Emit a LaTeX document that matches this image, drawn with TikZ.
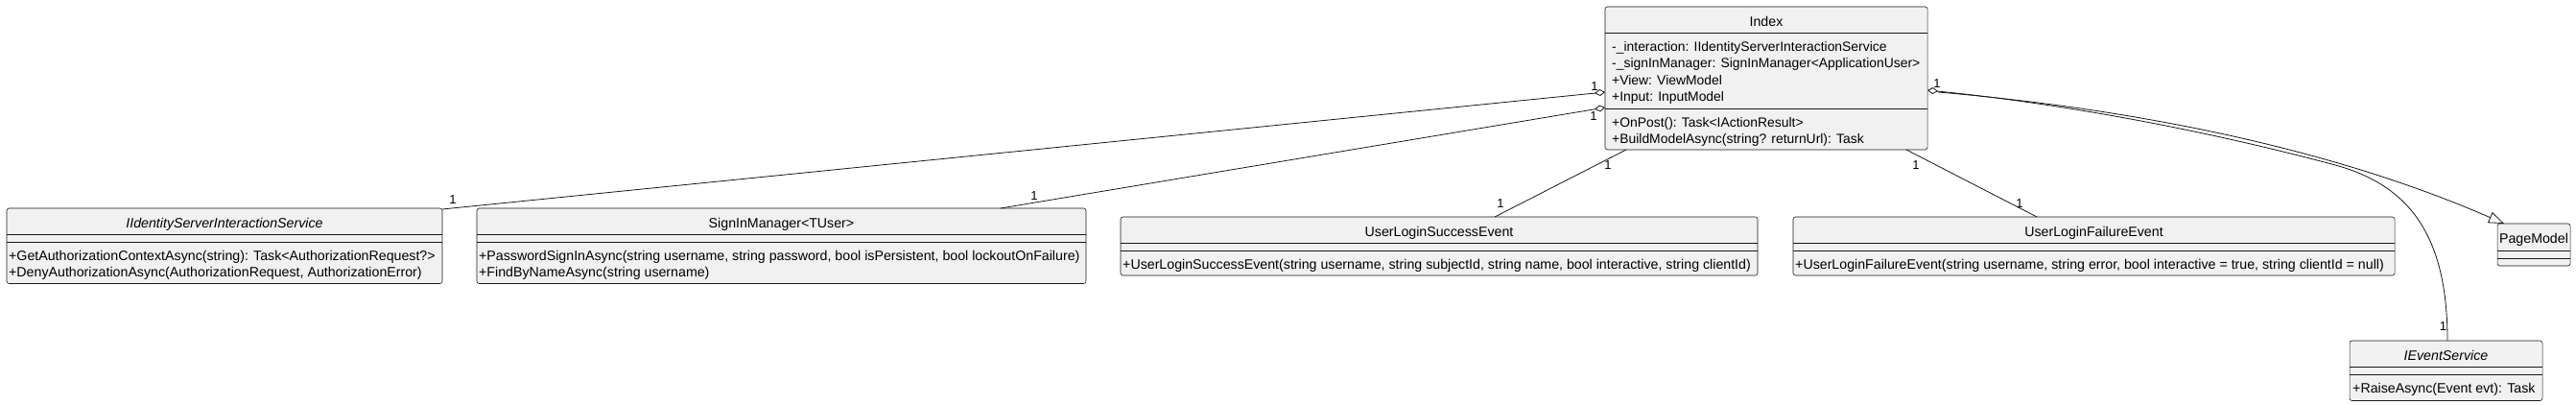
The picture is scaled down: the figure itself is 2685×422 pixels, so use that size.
\documentclass[tikz,border=0pt]{standalone}
\usepackage{fontspec}
\setmainfont{Liberation Sans}
\usetikzlibrary{arrows.meta,calc}
\definecolor{boxfill}{HTML}{F1F1F1}
\definecolor{boxline}{HTML}{181818}
\definecolor{edgecol}{HTML}{181818}
\tikzset{
  cls/.style={draw=boxline, line width=0.55pt, fill=boxfill, rounded corners=2.5pt, inner sep=0pt, outer sep=0pt},
  sepline/.style={draw=boxline, line width=0.55pt},
  txt/.style={anchor=base west, inner sep=0pt, font=\fontsize{14.2}{17}\selectfont},
  idxtxt/.style={anchor=base west, inner sep=0pt, font=\fontsize{13.9}{17}\selectfont},
  ttl/.style={anchor=base, inner sep=0pt, font=\fontsize{14.2}{17}\selectfont},
  ittl/.style={anchor=base, inner sep=0pt, font=\fontsize{14.2}{17}\selectfont\itshape},
  mult/.style={inner sep=0pt, font=\fontsize{13}{15}\selectfont},
  assoc/.style={draw=edgecol, line width=0.8pt},
  agg/.style={assoc, {Diamond[open,length=11pt,width=7pt]}-},
  gen/.style={assoc, -{Triangle[open,length=16pt,width=12pt]}},
}
\begin{document}
\begin{tikzpicture}[x=1pt,y=-1pt]
\useasboundingbox[fill=white] (0,0) rectangle (2685,422);

% ---------- Index ----------
\node[cls, minimum width=336pt, minimum height=149pt] (index) at (1841,81.5) {};
\draw[sepline] (index.west |- 0,34) -- (index.east |- 0,34);
\draw[sepline] (index.west |- 0,113) -- (index.east |- 0,113);
\node[ttl] (indexT) at (1841,27.5) {Index};
\node[idxtxt] (ia1) at (1680,53.5) {-\_interaction: IIdentityServerInteractionService};
\node[idxtxt] (ia2) at (1680,70.8) {-\_signInManager: SignInManager<ApplicationUser>};
\node[idxtxt] (ia3) at (1680,88.1) {+View: ViewModel};
\node[idxtxt] (ia4) at (1680,105.4) {+Input: InputModel};
\node[idxtxt] (im1) at (1680,132.5) {+OnPost(): Task<IActionResult>};
\node[idxtxt] (im2) at (1680,149.8) {+BuildModelAsync(string? returnUrl): Task};

% ---------- IIdentityServerInteractionService ----------
\node[cls, minimum width=454pt, minimum height=78.5pt] (iis) at (234,256.25) {};
\draw[sepline] (iis.west |- 0,244) -- (iis.east |- 0,244);
\draw[sepline] (iis.west |- 0,252) -- (iis.east |- 0,252);
\node[ittl] (iisT) at (234,237.5) {IIdentityServerInteractionService};
\node[txt] (iism1) at (9,271.5) {+GetAuthorizationContextAsync(string): Task<AuthorizationRequest?>};
\node[txt] (iism2) at (9,288.8) {+DenyAuthorizationAsync(AuthorizationRequest, AuthorizationError)};

% ---------- SignInManager ----------
\node[cls, minimum width=635pt, minimum height=78.5pt] (sim) at (814.5,256.25) {};
\draw[sepline] (sim.west |- 0,244) -- (sim.east |- 0,244);
\draw[sepline] (sim.west |- 0,252) -- (sim.east |- 0,252);
\node[ttl] (simT) at (814.5,237.5) {SignInManager<TUser>};
\node[txt] (simm1) at (499,271.5) {+PasswordSignInAsync(string username, string password, bool isPersistent, bool lockoutOnFailure)};
\node[txt] (simm2) at (499,288.8) {+FindByNameAsync(string username)};

% ---------- UserLoginSuccessEvent ----------
\node[cls, minimum width=664pt, minimum height=61pt] (ulse) at (1500,256.5) {};
\draw[sepline] (ulse.west |- 0,253) -- (ulse.east |- 0,253);
\draw[sepline] (ulse.west |- 0,261) -- (ulse.east |- 0,261);
\node[ttl] (ulseT) at (1500,246.5) {UserLoginSuccessEvent};
\node[txt] (ulsem1) at (1170,280.5) {+UserLoginSuccessEvent(string username, string subjectId, string name, bool interactive, string clientId)};

% ---------- UserLoginFailureEvent ----------
\node[cls, minimum width=627pt, minimum height=61pt] (ulfe) at (2182.5,256.5) {};
\draw[sepline] (ulfe.west |- 0,253) -- (ulfe.east |- 0,253);
\draw[sepline] (ulfe.west |- 0,261) -- (ulfe.east |- 0,261);
\node[ttl] (ulfeT) at (2182.5,246.5) {UserLoginFailureEvent};
\node[txt] (ulfem1) at (1871,280.5) {+UserLoginFailureEvent(string username, string error, bool interactive = true, string clientId = null)};

% ---------- PageModel ----------
\node[cls, minimum width=76pt, minimum height=44pt] (pm) at (2641,255) {};
\draw[sepline] (pm.west |- 0,261) -- (pm.east |- 0,261);
\draw[sepline] (pm.west |- 0,269) -- (pm.east |- 0,269);
\node[ttl] (pmT) at (2641,254) {PageModel};

% ---------- IEventService ----------
\node[cls, minimum width=201pt, minimum height=62.5pt] (ies) at (2549.5,386.25) {};
\draw[sepline] (ies.west |- 0,382) -- (ies.east |- 0,382);
\draw[sepline] (ies.west |- 0,390) -- (ies.east |- 0,390);
\node[ittl] (iesT) at (2549.5,375.5) {IEventService};
\node[txt] (iesm1) at (2452,409.5) {+RaiseAsync(Event evt): Task};

% ---------- connectors ----------
\draw[agg] (index.west |- 0,96) -- ($(iis.north east)+(0,1)$);
\draw[agg] (index.west |- 0,112) -- (sim.north -| 1043,0);
\draw[assoc] (index.south -| 1695,0) -- (ulse.north -| 1558,0);
\draw[assoc] (index.south -| 1987,0) -- (ulfe.north -| 2123,0);
\draw[gen] ($(index.east |- 0,96)+(11,0)$) .. controls (2207,112) and (2420,150) .. (pm.north -| 2610,0);
\draw[agg] (index.east |- 0,94) .. controls (2150,108) and (2300,136) .. (2434,172)
   .. controls (2515,194) and (2551,250) .. (ies.north -| 2551,0);

% ---------- multiplicities ----------
\node[mult] (m1) at (1662,90) {1};
\node[mult] (m2) at (1661,121.5) {1};
\node[mult] (m3) at (472,208) {1};
\node[mult] (m4) at (1078,204) {1};
\node[mult] (m5) at (1676,172) {1};
\node[mult] (m6) at (1564,212.5) {1};
\node[mult] (m7) at (1997,172) {1};
\node[mult] (m8) at (2105,212.5) {1};
\node[mult] (m9) at (2019,87) {1};
\node[mult] (m10) at (2546.5,340) {1};
\end{tikzpicture}
\end{document}
